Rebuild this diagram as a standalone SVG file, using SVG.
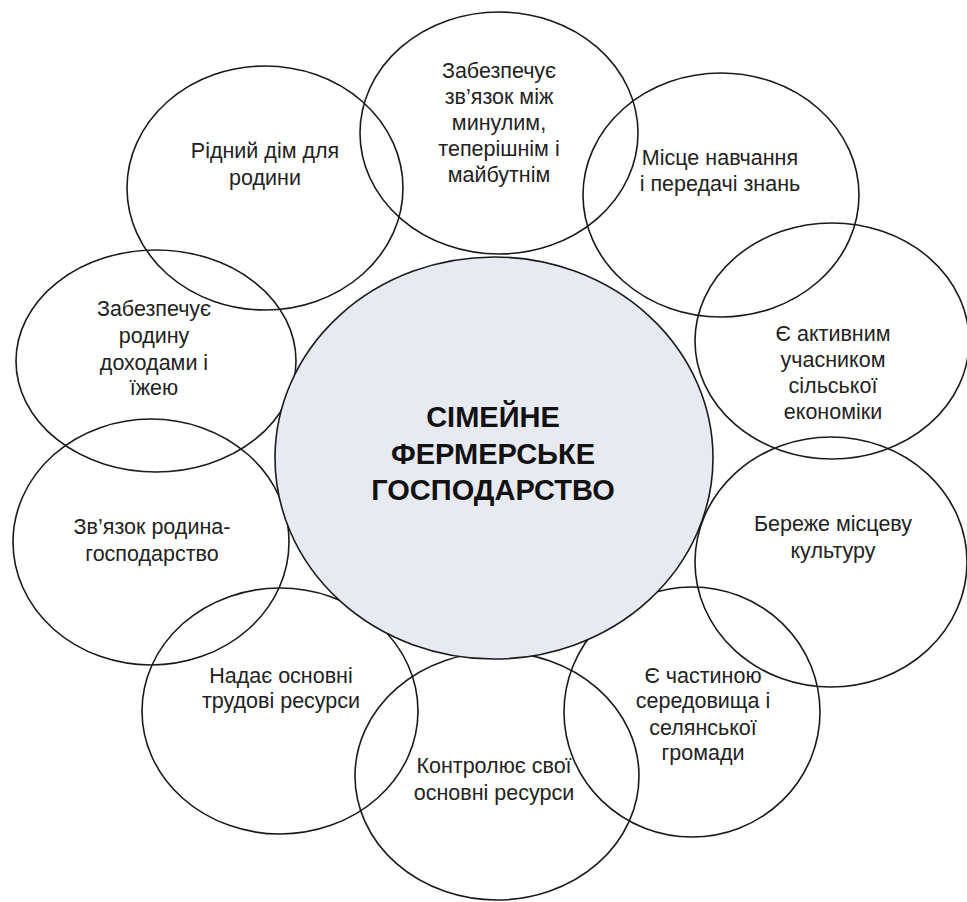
<svg xmlns="http://www.w3.org/2000/svg" width="967" height="902" viewBox="0 0 967 902">
<style>
.o{fill:none;stroke:#1a1a1a;stroke-width:1.6}
.c{fill:#e7ebf1;stroke:#1a1a1a;stroke-width:1.6}
.t{font-family:"Liberation Sans",Arial,sans-serif;font-size:21.5px;fill:#222;text-anchor:middle}
.b{font-family:"Liberation Sans",Arial,sans-serif;font-size:29px;font-weight:bold;fill:#111;text-anchor:middle}
</style>
<rect width="967" height="902" fill="#fff"/>
<g id="n-top"><ellipse class="o" cx="499" cy="133" rx="139" ry="121"/>
<text class="t"><tspan x="499" y="78">Забезпечує</tspan><tspan x="499" y="104">зв’язок між</tspan><tspan x="499" y="130">минулим,</tspan><tspan x="499" y="156">теперішнім і</tspan><tspan x="499" y="182">майбутнім</tspan></text></g>
<g id="n-home"><ellipse class="o" cx="265" cy="188" rx="138" ry="122"/>
<text class="t"><tspan x="265" y="158">Рідний дім для</tspan><tspan x="265" y="185">родини</tspan></text></g>
<g id="n-learn"><ellipse class="o" cx="721" cy="195" rx="138" ry="122"/>
<text class="t"><tspan x="720" y="165">Місце навчання</tspan><tspan x="720" y="191">і передачі знань</tspan></text></g>
<g id="n-income"><ellipse class="o" cx="156" cy="361" rx="140" ry="111"/>
<text class="t"><tspan x="154" y="316">Забезпечує</tspan><tspan x="154" y="343">родину</tspan><tspan x="154" y="370">доходами і</tspan><tspan x="154" y="395">їжею</tspan></text></g>
<g id="n-econ"><ellipse class="o" cx="832" cy="341" rx="137" ry="118"/>
<text class="t"><tspan x="833" y="341">Є активним</tspan><tspan x="833" y="367">учасником</tspan><tspan x="833" y="393">сільської</tspan><tspan x="833" y="419">економіки</tspan></text></g>
<g id="n-link"><ellipse class="o" cx="151" cy="542" rx="138" ry="123"/>
<text class="t"><tspan x="152" y="534">Зв’язок родина-</tspan><tspan x="152" y="561">господарство</tspan></text></g>
<g id="n-culture"><ellipse class="o" cx="831" cy="562" rx="136" ry="125"/>
<text class="t"><tspan x="833" y="531">Береже місцеву</tspan><tspan x="833" y="558">культуру</tspan></text></g>
<g id="n-labour"><ellipse class="o" cx="280" cy="711" rx="138" ry="123"/>
<text class="t"><tspan x="281" y="683">Надає основні</tspan><tspan x="281" y="708">трудові ресурси</tspan></text></g>
<g id="n-control"><ellipse class="o" cx="497" cy="776" rx="142" ry="124"/>
<text class="t"><tspan x="494" y="773">Контролює свої</tspan><tspan x="494" y="800">основні ресурси</tspan></text></g>
<g id="n-community"><ellipse class="o" cx="692" cy="712" rx="128" ry="125"/>
<text class="t"><tspan x="703" y="683">Є частиною</tspan><tspan x="703" y="708">середовища і</tspan><tspan x="703" y="735">селянської</tspan><tspan x="703" y="760">громади</tspan></text></g>
<g id="n-center"><ellipse class="c" cx="494" cy="458" rx="219" ry="201"/>
<text class="b"><tspan x="493" y="427">СІМЕЙНЕ</tspan><tspan x="493" y="464">ФЕРМЕРСЬКЕ</tspan><tspan x="493" y="500">ГОСПОДАРСТВО</tspan></text></g>
<g id="connectors"></g>
</svg>
